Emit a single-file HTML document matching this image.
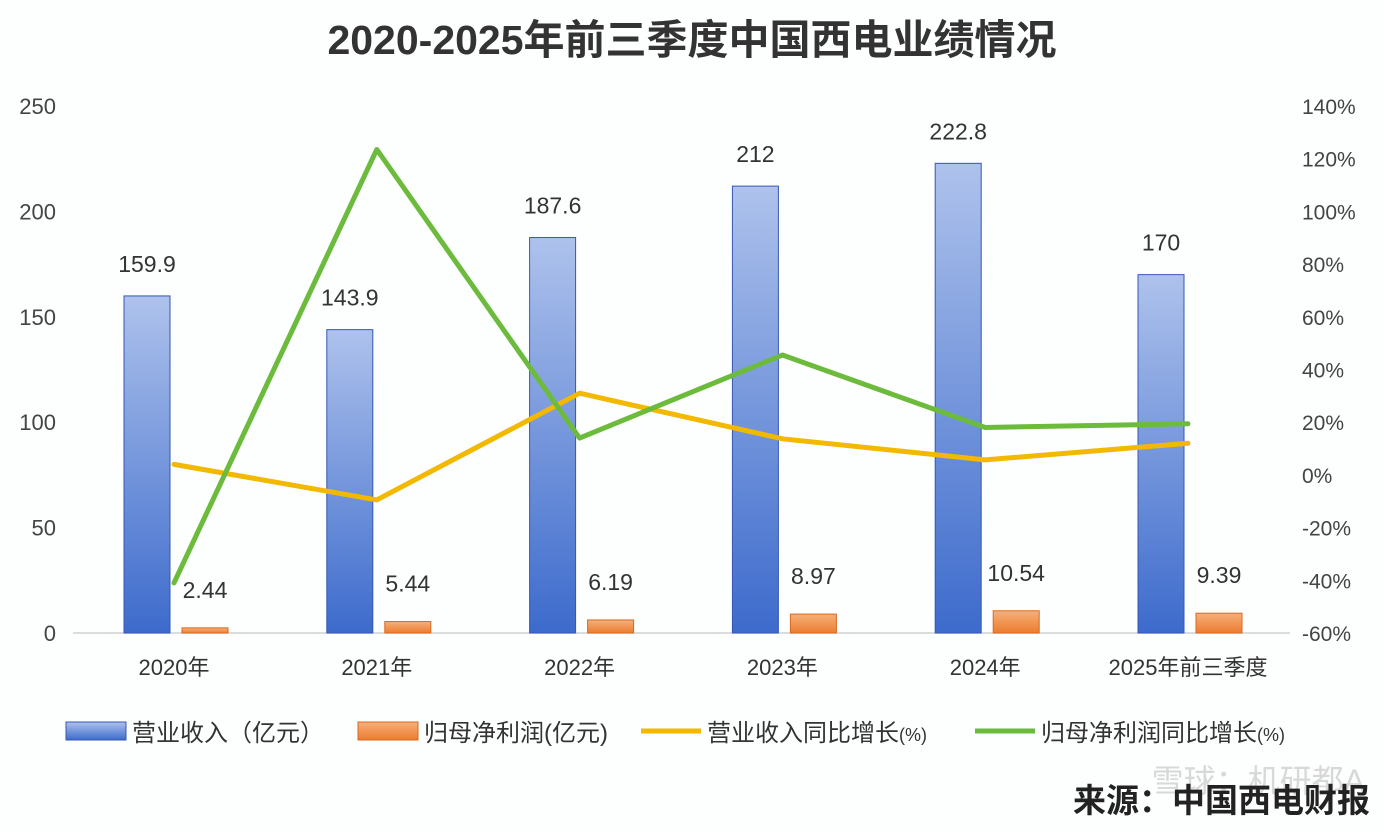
<!DOCTYPE html>
<html><head><meta charset="utf-8"><style>
html,body{margin:0;padding:0;background:#fdfefe;}
svg{display:block;font-family:"Liberation Sans","Noto Sans CJK SC",sans-serif;}
</style></head><body>
<svg id="c" width="1384" height="832" viewBox="0 0 1384 832">
<defs>
<linearGradient id="gb" x1="0" y1="0" x2="0" y2="1"><stop offset="0" stop-color="#aec2ec"/><stop offset="1" stop-color="#3d6bcc"/></linearGradient>
<linearGradient id="go" x1="0" y1="0" x2="0" y2="1"><stop offset="0" stop-color="#f6b07a"/><stop offset="1" stop-color="#ec7c30"/></linearGradient>
</defs>
<text x="692" y="54" text-anchor="middle" font-size="41" font-weight="bold" fill="#333">2020-2025年前三季度中国西电业绩情况</text>
<g id="plot"></g>
<g font-size="24" fill="#333">
<rect x="66" y="722" width="60" height="18" fill="url(#gb)" stroke="#3558b0"/>
<text x="132" y="741">营业收入（亿元）</text>
<rect x="358" y="722" width="60" height="18" fill="url(#go)" stroke="#d86a20"/>
<text x="424" y="741">归母净利润(亿元)</text>
<line x1="641" y1="731" x2="701" y2="731" stroke="#f3b800" stroke-width="5"/>
<text x="707" y="741">营业收入同比增长<tspan font-size="18">(%)</tspan></text>
<line x1="975" y1="731" x2="1035" y2="731" stroke="#6cbb3c" stroke-width="5"/>
<text x="1041" y="741">归母净利润同比增长<tspan font-size="18">(%)</tspan></text>
</g>
<text x="1365" y="792" text-anchor="end" font-size="32" fill="#d8d8d8">雪球：机研都A</text>
<text x="1370" y="812" text-anchor="end" font-size="33" font-weight="bold" fill="#222">来源：中国西电财报</text>
</svg>
<script>
const categories=["2020年","2021年","2022年","2023年","2024年","2025年前三季度"];
const revenue=[159.9,143.9,187.6,212,222.8,170];
const profit=[2.44,5.44,6.19,8.97,10.54,9.39];
const revenueGrowth=[4,-9.5,31,13.7,5.7,12];
const profitGrowth=[-41,123.5,14,45.5,18,19.4];
const leftTicks=[0,50,100,150,200,250];
const rightTicks=[-60,-40,-20,0,20,40,60,80,100,120,140];

const NS="http://www.w3.org/2000/svg";
const g=document.getElementById('plot');
const yL=v=>633-v*527/250;
const yR=v=>633-(v+60)*527/200;
const xC=i=>174+i*202.8;
function mk(t,a){const e=document.createElementNS(NS,t);for(const k in a)e.setAttribute(k,a[k]);g.appendChild(e);return e;}
leftTicks.forEach(v=>{const t=mk('text',{x:56,y:yL(v)+8,'text-anchor':'end','font-size':22,fill:'#444'});t.textContent=v;

});
rightTicks.forEach(v=>{const t=mk('text',{x:1302,y:yR(v)+8,'font-size':21,fill:'#444'});t.textContent=v+'%';

});
const ax=mk('line',{x1:73,x2:1290,y1:633,y2:633,stroke:'#d0d0d0','stroke-width':1.5});


categories.forEach((c,i)=>{const t=mk('text',{x:xC(i),y:675,'text-anchor':'middle','font-size':22,fill:'#333'});t.textContent=c;

});
revenue.forEach((v,i)=>{const x=xC(i)-50;const r=mk('rect',{x:x,y:yL(v),width:46,height:633-yL(v),fill:'url(#gb)',stroke:'#3558b0','stroke-width':1});


const t=mk('text',{x:x+23,y:yL(v)-24,'text-anchor':'middle','font-size':23,fill:'#333'});t.textContent=v;

});
profit.forEach((v,i)=>{const x=xC(i)+8;const r=mk('rect',{x:x,y:yL(v),width:46,height:633-yL(v),fill:'url(#go)',stroke:'#d86a20','stroke-width':1});


const t=mk('text',{x:x+23,y:yL(v)-30,'text-anchor':'middle','font-size':23,fill:'#333'});t.textContent=v;

});
const l1=mk('polyline',{points:revenueGrowth.map((v,i)=>xC(i)+','+yR(v)).join(' '),fill:'none',stroke:'#f3b800','stroke-width':5,'stroke-linejoin':'round','stroke-linecap':'round'});


const l2=mk('polyline',{points:profitGrowth.map((v,i)=>xC(i)+','+yR(v)).join(' '),fill:'none',stroke:'#6cbb3c','stroke-width':5,'stroke-linejoin':'round','stroke-linecap':'round'});


</script>
</body></html>
